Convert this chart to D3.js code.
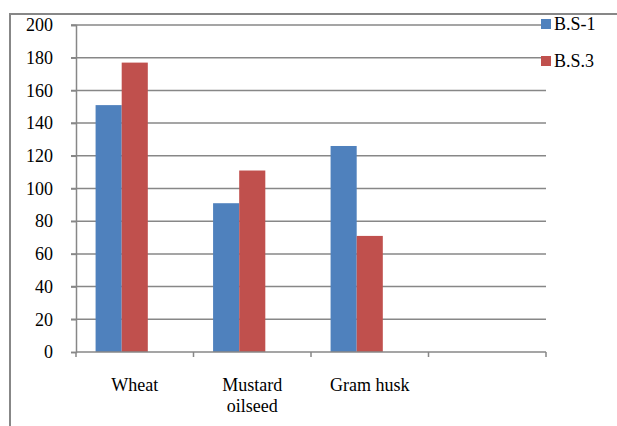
<!DOCTYPE html>
<html>
<head>
<meta charset="utf-8">
<script src="https://cdn.jsdelivr.net/npm/d3@7"></script>
<style>
    body { margin: 0; background: #fff; }
    svg { display: block; }
</style>
</head>
<body>
<svg id="chart" width="617" height="426"></svg>
<script>
const categories = ["Wheat", "Mustard\noilseed", "Gram husk", ""]
const seriesNames = ["B.S-1", "B.S.3"]
const bs1 = [151, 91, 126, null]
const bs3 = [177, 111, 71, null]
const yTicks = [0, 20, 40, 60, 80, 100, 120, 140, 160, 180, 200]
const colors = ["#4F81BD", "#C0504D"]

// pick the first serif face that is really installed
const ctx = document.createElement("canvas").getContext("2d")
function hasFont(name) {
    ctx.font = "40px monospace"
    const base = ctx.measureText("Wheat Mustard 0123").width
    ctx.font = `40px "${name}", monospace`
    return ctx.measureText("Wheat Mustard 0123").width !== base
}
const candidates = ["Liberation Serif", "Times New Roman", "Tinos", "DejaVu Serif", "Noto Serif"]
const found = candidates.find(hasFont)
const serif = found ? `"${found}", serif` : "serif"
const fontSize = 18

const svg = d3.select("#chart")
const plot = { left: 76, right: 546, top: 25, bottom: 352 }
const gray = "#878787"

// outer frame (right and bottom edges fall outside the picture)
svg.append("rect")
    .attr("x", 10).attr("y", 14)
    .attr("width", 640).attr("height", 460)
    .attr("fill", "none")
    .attr("stroke", gray)
    .attr("stroke-width", 2)

const x0 = d3.scaleBand()
    .domain(d3.range(categories.length))
    .range([plot.left, plot.right])

// third slot is empty, like the spreadsheet's blank series
const gap = x0.bandwidth() / 3
const x1 = d3.scaleBand()
    .domain([0, 1, 2])
    .range([gap / 2, x0.bandwidth() - gap / 2])

const y = d3.scaleLinear()
    .domain([0, 200])
    .range([plot.bottom, plot.top])

// gridlines
svg.append("g")
    .selectAll("line")
    .data(yTicks.filter(d => d > 0))
    .join("line")
    .attr("x1", plot.left - 5)
    .attr("x2", plot.right)
    .attr("y1", d => y(d))
    .attr("y2", d => y(d))
    .attr("stroke", gray)
    .attr("stroke-width", 1.5)

// y axis
const yAxis = svg.append("g")
    .attr("transform", `translate(${plot.left},0)`)
    .call(d3.axisLeft(y).tickValues(yTicks).tickSize(5).tickPadding(18))
yAxis.attr("font-family", serif).attr("font-size", fontSize)
yAxis.select(".domain").attr("stroke", gray).attr("stroke-width", 1.5)
yAxis.selectAll(".tick line").attr("stroke", gray).attr("stroke-width", 1.5)
yAxis.selectAll(".tick text").attr("fill", "#000")

// bars
const rows = categories.map((c, i) => ({ i, vals: [bs1[i], bs3[i]] }))
svg.append("g")
    .selectAll("g")
    .data(rows)
    .join("g")
    .attr("transform", d => `translate(${x0(d.i)},0)`)
    .selectAll("rect")
    .data(d => d.vals.map((v, s) => ({ v, s })).filter(d => d.v != null))
    .join("rect")
    .attr("x", d => x1(d.s))
    .attr("width", x1.bandwidth())
    .attr("y", d => y(d.v))
    .attr("height", d => y(0) - y(d.v))
    .attr("fill", d => colors[d.s])

// x axis
const xAxis = svg.append("g")
    .attr("transform", `translate(0,${plot.bottom})`)
    .attr("font-family", serif)
    .attr("font-size", fontSize)
xAxis.append("line")
    .attr("x1", plot.left).attr("x2", plot.right)
    .attr("stroke", gray).attr("stroke-width", 1.5)
xAxis.selectAll(".xtick")
    .data(d3.range(categories.length + 1))
    .join("line")
    .attr("x1", d => plot.left + d * x0.step())
    .attr("x2", d => plot.left + d * x0.step())
    .attr("y1", 0).attr("y2", 5)
    .attr("stroke", gray).attr("stroke-width", 1.5)

xAxis.selectAll(".xlabel")
    .data(categories)
    .join("text")
    .attr("text-anchor", "middle")
    .attr("x", (d, i) => x0(i) + x0.bandwidth() / 2)
    .attr("y", 39)
    .selectAll("tspan")
    .data(d => d.split("\n"))
    .join("tspan")
    .attr("x", function () { return d3.select(this.parentNode).attr("x") })
    .attr("dy", (d, i) => i === 0 ? 0 : 21)
    .text(d => d)

// legend
const legend = svg.append("g")
    .attr("font-family", serif)
    .attr("font-size", fontSize)
legend.append("rect")
    .attr("x", 541).attr("y", 15)
    .attr("width", 80).attr("height", 58)
    .attr("fill", "#fff")
const item = legend.selectAll(".item")
    .data(seriesNames)
    .join("g")
    .attr("transform", (d, i) => `translate(541,${19 + i * 37})`)
item.append("rect")
    .attr("width", 10).attr("height", 10)
    .attr("fill", (d, i) => colors[i])
item.append("text")
    .attr("x", 13).attr("y", 10.5)
    .text(d => d)
</script>
</body>
</html>
